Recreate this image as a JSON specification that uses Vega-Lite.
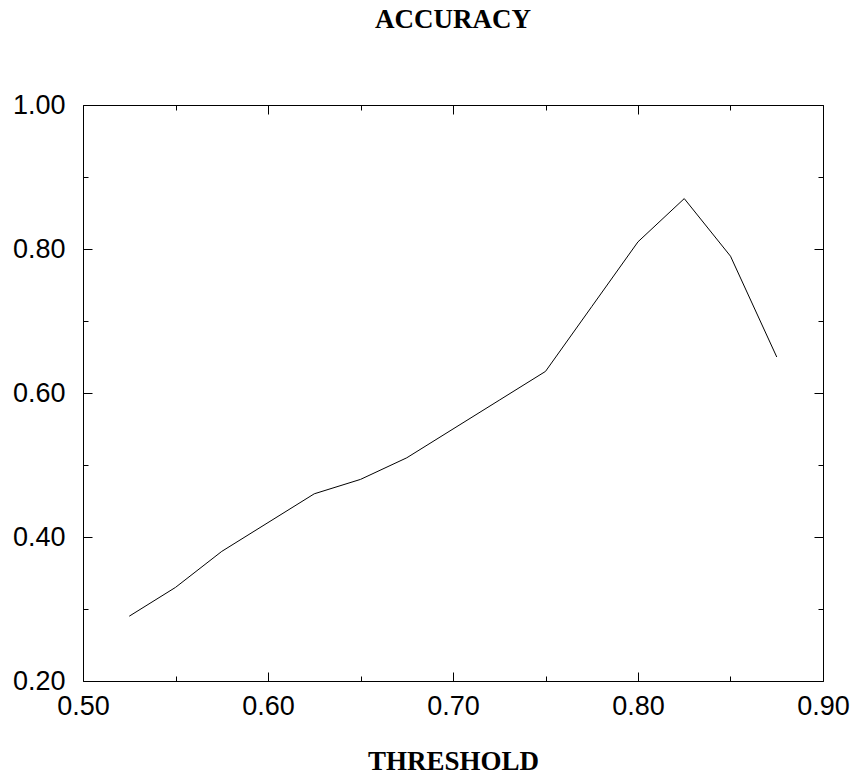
{
  "$schema": "https://vega.github.io/schema/vega-lite/v6.json",
  "autosize": "none",
  "width": 740,
  "height": 576,
  "padding": {"left": 83, "top": 105, "right": 30, "bottom": 102},
  "background": "white",
  "title": {
    "text": "ACCURACY",
    "font": "Liberation Serif",
    "fontSize": 27,
    "fontWeight": "bold",
    "color": "black",
    "anchor": "middle",
    "offset": 57
  },
  "config": {
    "view": {"stroke": "black", "strokeWidth": 1},
    "axis": {
      "domain": false,
      "grid": false,
      "tickColor": "black",
      "tickWidth": 1,
      "labelFont": "Liberation Sans",
      "labelFontSize": 27,
      "labelColor": "black",
      "titleFont": "Liberation Serif",
      "titleFontSize": 27,
      "titleFontWeight": "bold",
      "titleColor": "black"
    }
  },
  "data": {
    "values": [
      {"threshold": 0.525, "accuracy": 0.29},
      {"threshold": 0.55, "accuracy": 0.33},
      {"threshold": 0.575, "accuracy": 0.38},
      {"threshold": 0.6, "accuracy": 0.42},
      {"threshold": 0.625, "accuracy": 0.46},
      {"threshold": 0.65, "accuracy": 0.48},
      {"threshold": 0.675, "accuracy": 0.51},
      {"threshold": 0.7, "accuracy": 0.55},
      {"threshold": 0.725, "accuracy": 0.59},
      {"threshold": 0.75, "accuracy": 0.63},
      {"threshold": 0.775, "accuracy": 0.72},
      {"threshold": 0.8, "accuracy": 0.81},
      {"threshold": 0.825, "accuracy": 0.87},
      {"threshold": 0.85, "accuracy": 0.79},
      {"threshold": 0.875, "accuracy": 0.65}
    ]
  },
  "resolve": {"axis": {"x": "independent", "y": "independent"}},
  "layer": [
    {
      "mark": {"type": "line", "color": "black", "strokeWidth": 1},
      "encoding": {
        "x": {
          "field": "threshold", "type": "quantitative",
          "scale": {"domain": [0.5, 0.9], "nice": false, "zero": false},
          "axis": {
            "orient": "bottom", "values": [0.5, 0.6, 0.7, 0.8, 0.9],
            "format": ".2f", "tickSize": -9, "labelPadding": 21,
            "title": "THRESHOLD", "titlePadding": 29, "labelFlush": false, "labelOverlap": false
          }
        },
        "y": {
          "field": "accuracy", "type": "quantitative",
          "scale": {"domain": [0.2, 1.0], "nice": false, "zero": false},
          "axis": {
            "orient": "left", "values": [0.2, 0.4, 0.6, 0.8, 1.0],
            "format": ".2f", "tickSize": -9, "labelPadding": 27,
            "title": null, "labelFlush": false, "labelOverlap": false
          }
        }
      }
    },
    {
      "mark": {"type": "line", "color": "black", "strokeWidth": 1, "opacity": 0},
      "encoding": {
        "x": {
          "field": "threshold", "type": "quantitative",
          "axis": {"orient": "bottom", "values": [0.55, 0.65, 0.75, 0.85], "tickSize": -5, "labels": false, "title": null}
        },
        "y": {
          "field": "accuracy", "type": "quantitative",
          "axis": {"orient": "left", "values": [0.3, 0.5, 0.7, 0.9], "tickSize": -5, "labels": false, "title": null}
        }
      }
    },
    {
      "mark": {"type": "line", "color": "black", "strokeWidth": 1, "opacity": 0},
      "encoding": {
        "x": {
          "field": "threshold", "type": "quantitative",
          "axis": {"orient": "top", "values": [0.5, 0.6, 0.7, 0.8, 0.9], "tickSize": -9, "labels": false, "title": null}
        },
        "y": {
          "field": "accuracy", "type": "quantitative",
          "axis": {"orient": "right", "values": [0.2, 0.4, 0.6, 0.8, 1.0], "tickSize": -9, "labels": false, "title": null}
        }
      }
    },
    {
      "mark": {"type": "line", "color": "black", "strokeWidth": 1, "opacity": 0},
      "encoding": {
        "x": {
          "field": "threshold", "type": "quantitative",
          "axis": {"orient": "top", "values": [0.55, 0.65, 0.75, 0.85], "tickSize": -5, "labels": false, "title": null}
        },
        "y": {
          "field": "accuracy", "type": "quantitative",
          "axis": {"orient": "right", "values": [0.3, 0.5, 0.7, 0.9], "tickSize": -5, "labels": false, "title": null}
        }
      }
    }
  ]
}
